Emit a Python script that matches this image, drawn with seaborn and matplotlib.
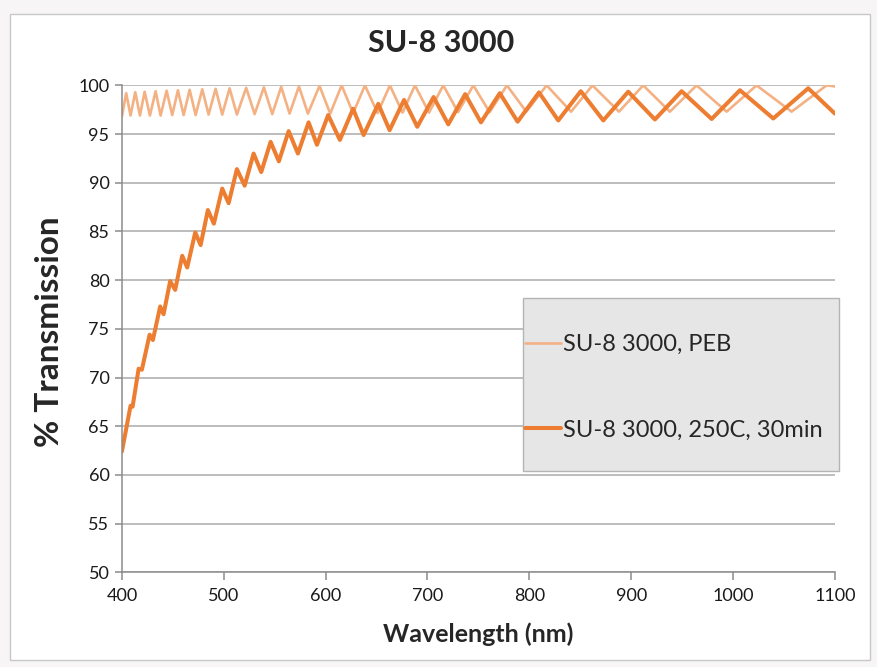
import numpy as np
import pandas as pd
import seaborn as sns
import matplotlib.pyplot as plt
from matplotlib.patches import Rectangle

# Values (peaks / troughs of the fringes)
peb_nm = [400, 404.2, 408.5, 413.1, 417.7, 422.3, 427.5, 433.1, 438, 443.9,
          449.4, 455, 460.6, 466.5, 472.4, 478.9, 485.1, 492, 498.5, 505.7,
          512.9, 522, 530.3, 539.4, 547.6, 556.4, 564.6, 573.8, 582.6, 594,
          604.5, 615.7, 627, 638.6, 651, 663.1, 675.5, 687.7, 701.5, 715.5,
          730, 745, 761, 778, 797, 817, 841, 862, 888, 911.8,
          938, 964.2, 993.7, 1023.1, 1057.5, 1091.8, 1100]
peb_pct = [96.8, 99.2, 96.9, 99.3, 96.9, 99.35, 96.9, 99.4, 96.9, 99.45,
           96.95, 99.5, 96.95, 99.55, 96.95, 99.6, 97.0, 99.65, 97.0, 99.7,
           97.0, 99.75, 97.05, 99.8, 97.05, 99.85, 97.1, 99.9, 97.1, 99.95,
           97.1, 100.0, 97.15, 100.0, 97.15, 100.0, 97.2, 100.0, 97.2, 100.0,
           97.25, 100.0, 97.25, 100.0, 97.3, 100.0, 97.3, 100.0, 97.3, 100.0,
           97.3, 100.0, 97.3, 100.0, 97.3, 100.0, 99.9]

baked_nm = [400, 408.5, 410.5, 416.4, 419.6, 427.2, 430.4, 437.6, 440.9, 447.4,
            452.3, 459.2, 464.1, 472, 477.3, 484.4, 490.3, 498.5, 504.8, 512.9,
            520.5, 529.3, 536.8, 546, 554.1, 563.7, 572.8, 583.3, 591.5, 602.5,
            614, 627, 637.3, 651.7, 662.8, 677, 690, 706, 720.4, 737,
            752.5, 771, 788.5, 809.5, 828.4, 850.5, 872.6, 897.1, 923.3, 949.5,
            979, 1006.8, 1039.5, 1073.8, 1100]
baked_pct = [62.4, 67.1, 67.0, 70.9, 70.8, 74.4, 73.85, 77.3, 76.5, 79.9,
             79.0, 82.5, 81.3, 84.9, 83.6, 87.2, 85.8, 89.4, 87.9, 91.4,
             89.7, 93.0, 91.1, 94.2, 92.2, 95.3, 93.0, 96.2, 93.9, 96.95,
             94.4, 97.6, 94.9, 98.1, 95.4, 98.5, 95.75, 98.8, 96.0, 99.1,
             96.2, 99.2, 96.27, 99.28, 96.4, 99.4, 96.4, 99.35, 96.5, 99.4,
             96.55, 99.5, 96.6, 99.7, 97.1]

series_labels = ['SU-8 3000, PEB', 'SU-8 3000, 250C, 30min']
x_ticks = [400, 500, 600, 700, 800, 900, 1000, 1100]
y_ticks = [50, 55, 60, 65, 70, 75, 80, 85, 90, 95, 100]

sns.set_theme(style='white')
plt.rcParams['font.family'] = ['Lato', 'DejaVu Sans']

fig = plt.figure(figsize=(8.77, 6.67), dpi=100)
fig.patch.set_facecolor('#f7f5f5')
# white chart area with thin border
fig.add_artist(Rectangle((0.0114, 0.0105), 0.981, 0.9685, transform=fig.transFigure,
                         facecolor='white', edgecolor='#c8c8c8', lw=1.0, zorder=0))

ax = fig.add_axes([0.139, 0.142, 0.813, 0.730])
ax.set_facecolor('white')

sns.lineplot(x=peb_nm, y=peb_pct, color='#f4b183', linewidth=1.9,
             label=series_labels[0], sort=False, ax=ax)
sns.lineplot(x=baked_nm, y=baked_pct, color='#ed7d31', linewidth=2.9,
             label=series_labels[1], sort=False, ax=ax)

ax.set_xlim(400, 1100)
ax.set_ylim(50, 100)
ax.set_xticks(x_ticks)
ax.set_yticks(y_ticks)
ax.yaxis.grid(True, color='#ababab', linewidth=1.1)
ax.xaxis.grid(False)
ax.set_axisbelow(True)

for s in ['top', 'right']:
    ax.spines[s].set_visible(False)
for s in ['left', 'bottom']:
    ax.spines[s].set_color('#8c8c8c')
    ax.spines[s].set_linewidth(1.1)

ax.tick_params(axis='x', bottom=True, direction='out', length=6, width=1.1,
               color='#8c8c8c', labelsize=13, pad=5, labelcolor='#1a1a1a')
ax.tick_params(axis='y', left=True, direction='out', length=5, width=1.1,
               color='#8c8c8c', labelsize=13, pad=4, labelcolor='#1a1a1a')
ax.set_xlabel('')
ax.set_ylabel('')

# legend box
ax.add_patch(Rectangle((0.5624, 0.208), 0.443, 0.355, transform=ax.transAxes,
                       facecolor='#e6e6e6', edgecolor='#b4b4b4', lw=1.0,
                       clip_on=False, zorder=3))
ax.legend(loc='upper left', bbox_to_anchor=(0.566, 0.489), frameon=False,
          fontsize=17, labelspacing=2.73, handlelength=1.5, handletextpad=0.1,
          borderpad=0, borderaxespad=0)

fig.text(0.503, 0.935, 'SU-8 3000', ha='center', va='center',
         fontsize=22, fontweight='bold')
fig.text(0.545, 0.049, 'Wavelength (nm)', ha='center', va='center',
         fontsize=18, fontweight='bold')
fig.text(0.057, 0.503, '% Transmission', ha='center', va='center',
         rotation=90, fontsize=24, fontweight='bold')

fig.savefig('out.png', dpi=100, facecolor=fig.get_facecolor())
